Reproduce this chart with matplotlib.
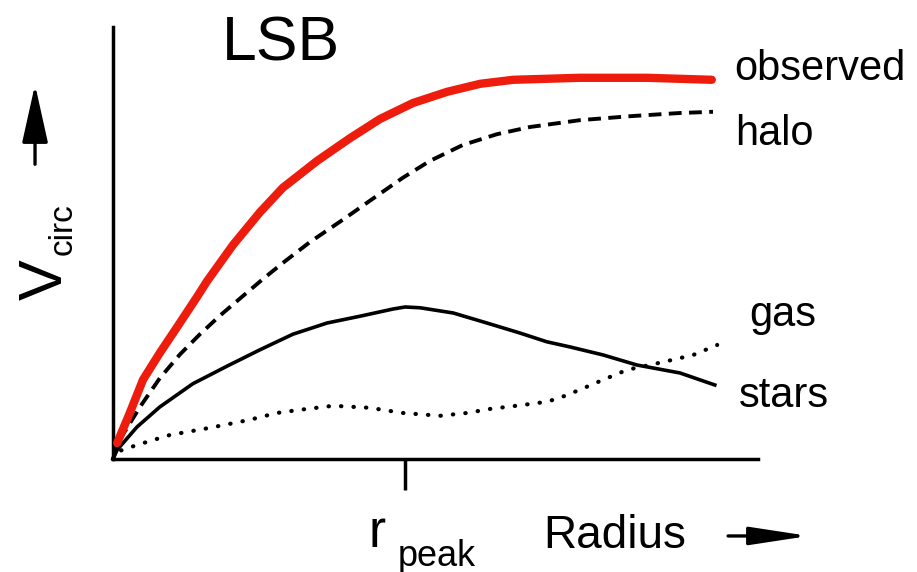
import numpy as np
import matplotlib
matplotlib.use("Agg")
import matplotlib.pyplot as plt
from matplotlib.patches import FancyArrowPatch

plt.rcParams['font.family'] = ['Liberation Sans', 'DejaVu Sans']

# schematic rotation curve components of an LSB galaxy (arbitrary units)
obs_x = [0.07, 0.28, 0.50, 0.78, 1.07, 1.40, 1.57, 2.00, 2.45, 2.83, 3.40, 3.95,
         4.45, 5.00, 5.57, 6.12, 6.67, 7.78, 8.90, 9.98]
obs_v = [0.40, 1.15, 1.98, 2.65, 3.30, 4.05, 4.45, 5.35, 6.17, 6.78, 7.45, 8.02,
         8.50, 8.90, 9.18, 9.38, 9.48, 9.53, 9.53, 9.48]

halo_x = [0.0, 0.12, 0.45, 0.78, 1.12, 1.45, 1.78, 2.17, 2.50, 2.83, 3.28, 3.83,
          4.40, 4.83, 5.28, 5.83, 6.40, 6.95, 7.78, 8.62, 9.45, 10.0]
halo_v = [0.0, 0.50, 1.30, 2.02, 2.62, 3.12, 3.58, 4.08, 4.50, 4.90, 5.42, 5.98,
          6.58, 7.03, 7.45, 7.85, 8.12, 8.30, 8.47, 8.57, 8.65, 8.68]

stars_x = [0.0, 0.07, 0.40, 0.78, 1.33, 1.90, 2.45, 3.00, 3.57, 4.12, 4.67, 4.87,
           5.12, 5.67, 6.23, 6.78, 7.23, 7.62, 8.17, 8.73, 9.45, 10.03]
stars_v = [0.0, 0.23, 0.80, 1.30, 1.88, 2.32, 2.73, 3.12, 3.40, 3.57, 3.75, 3.80,
           3.78, 3.65, 3.40, 3.15, 2.93, 2.80, 2.60, 2.35, 2.15, 1.85]

gas_x = [0.0, 0.07, 0.40, 0.95, 1.62, 2.28, 2.73, 3.12, 3.67, 4.28, 4.83, 5.45,
         5.90, 6.28, 6.83, 7.23, 7.45, 7.78, 8.17, 8.57, 8.95, 9.33, 9.67, 10.07]
gas_v = [0.0, 0.18, 0.35, 0.60, 0.78, 0.98, 1.15, 1.23, 1.33, 1.28, 1.15, 1.08,
         1.15, 1.25, 1.35, 1.43, 1.53, 1.73, 1.98, 2.23, 2.35, 2.48, 2.60, 2.85]

# radius where the stellar disk peaks
r_peak = stars_x[int(np.argmax(stars_v))]

fig = plt.figure(figsize=(9.17, 5.72), dpi=100)
ax = fig.add_axes([0.1232, 0.1976, 0.7034, 0.7552])

ax.plot(obs_x, obs_v, color="#ee1c0c", lw=6, solid_capstyle="round",
        solid_joinstyle="round", clip_on=False, zorder=4)
ax.plot(halo_x, halo_v, color="black", lw=2.8, linestyle=(0, (3.3, 1.9)), clip_on=False, zorder=3)
ax.plot(stars_x, stars_v, color="black", lw=2.6, solid_joinstyle="round", clip_on=False, zorder=3)
ax.plot(gas_x, gas_v, color="black", lw=3.0, linestyle=(0, (0.1, 2.9)),
        dash_capstyle="round", clip_on=False, zorder=3)

ax.set_xlim(0, 10.75)
ax.set_ylim(0, 10.8)
for side in ["top", "right"]:
    ax.spines[side].set_visible(False)
for side in ["left", "bottom"]:
    ax.spines[side].set_linewidth(2.5)
ax.set_yticks([])
ax.set_xticks([r_peak])
ax.set_xticklabels([""])
ax.tick_params(axis="x", direction="out", length=22, width=2.5)

# curve labels next to the end of each line
lab = dict(fontsize=30, va="baseline", ha="left", textcoords="offset points")
ax.annotate("observed", xy=(obs_x[-1], obs_v[-1]), xytext=(16, 0), **lab)
ax.annotate("halo", xy=(halo_x[-1], halo_v[-1]), xytext=(16, -24), **lab)
ax.annotate("gas", xy=(gas_x[-1], gas_v[-1]), xytext=(23, 14), **lab)
ax.annotate("stars", xy=(stars_x[-1], stars_v[-1]), xytext=(17, -16), **lab)

fig.text(0.242, 0.895, "LSB", fontsize=45, ha="left", va="baseline")

# x axis label
fig.text(0.592, 0.042, "Radius", fontsize=33, ha="left", va="baseline")
fig.text(0.402, 0.0437, "r", fontsize=37, ha="left", va="baseline")
fig.text(0.434, 0.011, "peak", fontsize=26, ha="left", va="baseline")
fig.patches.append(FancyArrowPatch((0.791, 0.063), (0.885, 0.063), transform=fig.transFigure,
                                   arrowstyle="-|>,head_length=3.6,head_width=0.55",
                                   mutation_scale=10, lw=2.4, color="black"))

# y axis label
fig.text(0.0676, 0.4755, "V", fontsize=44, rotation=90, rotation_mode="anchor",
         ha="left", va="baseline")
fig.text(0.0785, 0.554, "circ", fontsize=24, rotation=90, rotation_mode="anchor",
         ha="left", va="baseline")
fig.patches.append(FancyArrowPatch((0.0382, 0.708), (0.0382, 0.857), transform=fig.transFigure,
                                   arrowstyle="-|>,head_length=3.6,head_width=0.8",
                                   mutation_scale=10, lw=2.4, color="black"))

fig.savefig("out.png", dpi=100, facecolor="white")
